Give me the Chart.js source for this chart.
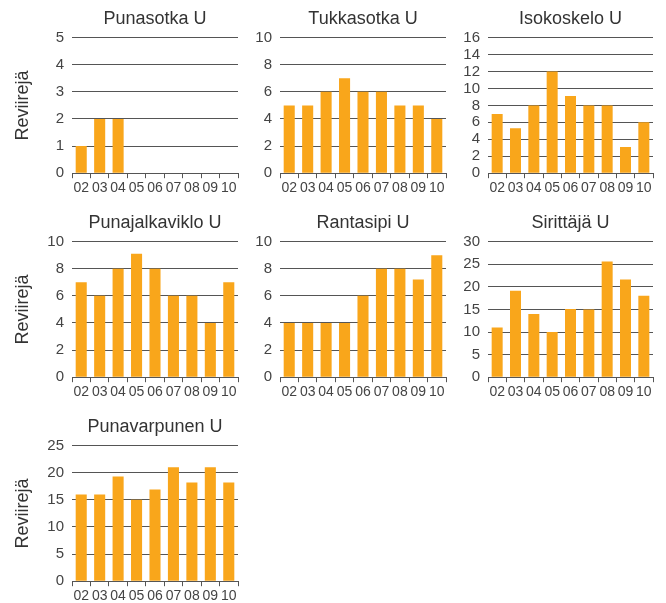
<!DOCTYPE html>
<html>
<head>
<meta charset="utf-8">
<script src="https://cdn.jsdelivr.net/npm/chart.js@4.4.1/dist/chart.umd.min.js"></script>
<style>
  html, body { margin: 0; padding: 0; background: #fff; }
  body { width: 666px; height: 603px; position: relative; overflow: hidden; }
  canvas { position: absolute; }
</style>
</head>
<body>
<canvas id="c0"></canvas>
<canvas id="c1"></canvas>
<canvas id="c2"></canvas>
<canvas id="c3"></canvas>
<canvas id="c4"></canvas>
<canvas id="c5"></canvas>
<canvas id="c6"></canvas>
<script>
// ---- Data ----
const years = ['02', '03', '04', '05', '06', '07', '08', '09', '10'];
const speciesTitles = ['Punasotka U', 'Tukkasotka U', 'Isokoskelo U', 'Punajalkaviklo U', 'Rantasipi U', 'Sirittäjä U', 'Punavarpunen U'];
const punasotka = [1, 2, 2, 0, 0, 0, 0, 0, 0];
const tukkasotka = [5, 5, 6, 7, 6, 6, 5, 5, 4];
const isokoskelo = [7, 5.3, 8, 12, 9.1, 8, 8, 3.1, 6];
const punajalkaviklo = [7, 6, 8, 9.1, 8, 6, 6, 4, 7];
const rantasipi = [4, 4, 4, 4, 6, 8, 8, 7.2, 9];
const sirittaja = [11, 19.1, 14, 10, 15.1, 15, 25.6, 21.6, 18];
const punavarpunen = [16, 16, 19.3, 15, 16.9, 21, 18.2, 21, 18.2];
const yMax = [5, 10, 16, 10, 10, 30, 25];
const yStep = [1, 2, 2, 2, 2, 5, 5];
const yAxisTitle = 'Reviirejä';

const seriesList = [punasotka, tukkasotka, isokoskelo, punajalkaviklo, rantasipi, sirittaja, punavarpunen];

// ---- Layout (styling only) ----
const colLeft = [0, 232, 440];
const colWidth = [240, 216, 215];
const rowTop = [0, 204, 408];
const canvasH = 200;
const FONT = "'Liberation Sans', Arial, sans-serif";
const BAR = '#F9A61B';
const GRID = '#555555';
const TXT = '#444444';

seriesList.forEach((vals, i) => {
  const col = i % 3, row = Math.floor(i / 3);
  const cv = document.getElementById('c' + i);
  cv.width = colWidth[col];
  cv.height = canvasH;
  cv.style.left = colLeft[col] + 'px';
  cv.style.top = rowTop[row] + 'px';
  const showYTitle = col === 0;
  new Chart(cv, {
    type: 'bar',
    data: {
      labels: years,
      datasets: [{
        data: vals,
        backgroundColor: BAR,
        borderWidth: 0,
        barPercentage: 0.6,
        categoryPercentage: 1.0
      }]
    },
    options: {
      responsive: false,
      animation: false,
      devicePixelRatio: 1,
      layout: { padding: { left: 0, right: 2, top: 0, bottom: 1 } },
      plugins: {
        legend: { display: false },
        tooltip: { enabled: false },
        title: {
          display: true,
          text: speciesTitles[i],
          fullSize: false,
          color: '#333333',
          font: { family: FONT, size: 18, weight: 'normal', lineHeight: 1.2 },
          padding: { top: 8, bottom: 8 }
        }
      },
      scales: {
        x: {
          offset: true,
          grid: {
            offset: true,
            drawOnChartArea: false,
            drawTicks: true,
            tickLength: 5,
            color: GRID
          },
          border: { display: true, color: GRID, width: 1 },
          ticks: {
            autoSkip: false,
            maxRotation: 0,
            minRotation: 0,
            padding: 2,
            color: TXT,
            font: { family: FONT, size: 14 }
          }
        },
        y: {
          min: 0,
          max: yMax[i],
          afterFit: (scale) => { scale.width = showYTitle ? 72 : 48; },
          grid: { drawTicks: false, color: GRID, lineWidth: 1 },
          border: { display: false },
          ticks: {
            stepSize: yStep[i],
            autoSkip: false,
            padding: 8,
            color: TXT,
            font: { family: FONT, size: 15 }
          },
          title: {
            display: showYTitle,
            text: yAxisTitle,
            color: '#333333',
            font: { family: FONT, size: 18 },
            padding: { top: 12, bottom: 0 }
          }
        }
      }
    }
  });
});
</script>
</body>
</html>
